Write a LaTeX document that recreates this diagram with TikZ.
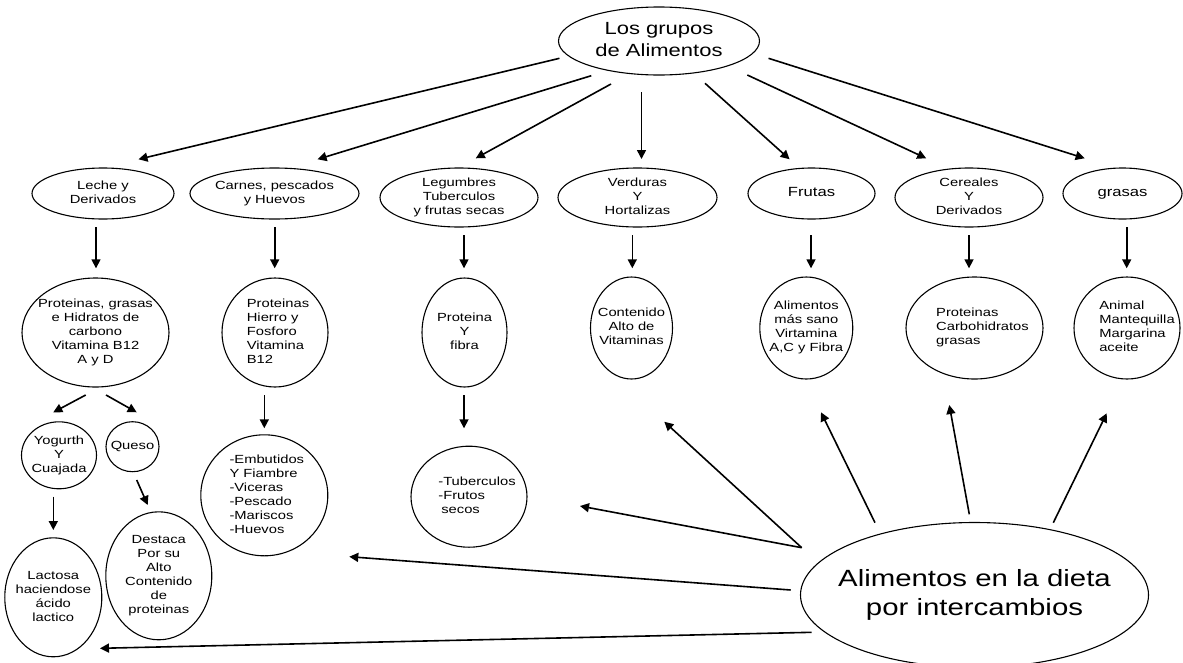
\documentclass[tikz,border=0pt]{standalone}
\usepackage{fontspec}
\setmainfont{Liberation Sans}[FakeStretch=1.25]
\usetikzlibrary{shapes.geometric,arrows.meta,calc}

% Text block centred on the node without enlarging the ellipse:
% #1 column alignment, #2 horizontal kern (twice the shift), #3 lines
\newsavebox\cellbox
\newcommand\inbox[3][c]{%
  \sbox\cellbox{\begin{tabular}{@{}#1@{}}#3\end{tabular}}%
  \makebox[0pt]{\kern#2\relax\raisebox{\dimexpr(\dp\cellbox-\ht\cellbox)/2\relax}[0pt][0pt]{\usebox\cellbox}}}

\begin{document}
\begin{tikzpicture}[x=1pt,y=-1pt,
  bub/.style={ellipse, draw, line width=1.1pt, inner sep=0pt, outer sep=0pt},
  arr/.style={line width=1.6pt, -{Triangle[length=9pt,width=9pt]}},
  txtS/.style={font=\fontsize{11.8}{14}\selectfont},
  txtM/.style={font=\fontsize{13.3}{16}\selectfont},
  txtL/.style={font=\fontsize{17.6}{21.7}\selectfont},
  txtXL/.style={font=\fontsize{23.5}{29}\selectfont}]
\useasboundingbox (0,0) rectangle (1183,662);

% root
\node[bub, txtL, minimum width=201, minimum height=68] (top) at (659,41)
  {\inbox{0pt}{Los grupos\\de Alimentos}};

% food groups
\node[bub, txtS, minimum width=142, minimum height=51] (leche) at (103,193.5)
  {\inbox{0pt}{Leche y\\Derivados}};
\node[bub, txtS, minimum width=169, minimum height=51] (carnes) at (274.5,193.5)
  {\inbox{0pt}{Carnes, pescados\\y Huevos}};
\node[bub, txtS, minimum width=158, minimum height=59] (legum) at (459,197.5)
  {\inbox{0pt}{Legumbres\\Tuberculos\\y frutas secas}};
\node[bub, txtS, minimum width=159, minimum height=59] (verd) at (637.5,197.5)
  {\inbox{0pt}{Verduras\\Y\\Hortalizas}};
\node[bub, txtM, minimum width=127, minimum height=51] (frutas) at (811.5,193.5)
  {\inbox{0pt}{Frutas}};
\node[bub, txtS, minimum width=148, minimum height=59] (cereal) at (969,197.5)
  {\inbox{0pt}{Cereales\\Y\\Derivados}};
\node[bub, txtM, minimum width=119, minimum height=51] (grasas) at (1122.5,193.5)
  {\inbox{0pt}{grasas}};

% nutrients of each group
\node[bub, txtS, minimum width=147, minimum height=109] (lecheC) at (95.5,332.5)
  {\inbox{0pt}{Proteinas, grasas\\e Hidratos de\\carbono\\Vitamina B12\\A y D}};
\node[bub, txtS, minimum width=106, minimum height=109] (carnesC) at (275,332.5)
  {\inbox[l]{6pt}{Proteinas\\Hierro y\\Fosforo\\Vitamina\\B12}};
\node[bub, txtS, minimum width=85, minimum height=109] (legumC) at (464.5,332.5)
  {\inbox{0pt}{Proteina\\Y\\fibra}};
\node[bub, txtS, minimum width=82, minimum height=102] (verdC) at (631.5,328)
  {\inbox{0pt}{Contenido\\Alto de\\Vitaminas}};
\node[bub, txtS, minimum width=93, minimum height=102] (frutasC) at (806.3,328)
  {\inbox{0pt}{Alimentos\\más sano\\Virtamina\\A,C y Fibra}};
\node[bub, txtS, minimum width=137, minimum height=102] (cerealC) at (974.5,328)
  {\inbox[l]{16pt}{Proteinas\\Carbohidratos\\grasas}};
\node[bub, txtS, minimum width=106, minimum height=102] (grasasC) at (1127,328)
  {\inbox[l]{20pt}{Animal\\Mantequilla\\Margarina\\aceite}};

% dairy products
\node[bub, txtS, minimum width=75, minimum height=67] (yog) at (59,455.3)
  {\inbox{0pt}{Yogurth\\Y\\Cuajada}};
\node[bub, txtS, minimum width=53, minimum height=50] (queso) at (132.5,446.7)
  {\inbox{0pt}{Queso}};
\node[bub, txtS, minimum width=97, minimum height=119] (lact) at (53.3,597.3)
  {\inbox{0pt}{Lactosa\\haciendose\\ácido\\lactico}};
\node[bub, txtS, minimum width=106, minimum height=128] (dest) at (158.8,575.8)
  {\inbox{0pt}{Destaca\\Por su\\Alto\\Contenido\\de\\proteinas}};

% examples
\node[bub, txtS, minimum width=127, minimum height=121] (embut) at (264.3,495.3)
  {\inbox[l]{5pt}{-Embutidos\\Y Fiambre\\-Viceras\\-Pescado\\-Mariscos\\-Huevos}};
\node[bub, txtS, minimum width=116, minimum height=101] (tuber) at (469,496.7)
  {\inbox[l]{16pt}{-Tuberculos\\-Frutos\\\hspace{3pt}secos}};

% exchange diet
\node[bub, txtXL, minimum width=348, minimum height=145] (dieta) at (974.5,595)
  {\inbox{0pt}{Alimentos en la dieta\\por intercambios}};

% root -> groups
\draw[arr] ($(top)+(-99.5,17.3)$) -- ($(leche)+(35.5,-34.2)$);
\draw[arr] ($(top)+(-67.7,34.7)$) -- ($(carnes)+(43.1,-34.2)$);
\draw[arr] ($(top)+(-48,43)$) -- ($(legum)+(16.7,-39.2)$);
\draw[arr] ($(top)+(-17.5,51.3)$) -- ($(verd)+(4,-38.5)$);
\draw[arr] ($(top)+(46,42.3)$) -- ($(frutas)+(-21.9,-34.2)$);
\draw[arr] ($(top)+(88.3,34)$) -- ($(cereal)+(-42.8,-39.2)$);
\draw[arr] ($(top)+(109.5,17.3)$) -- ($(grasas)+(-37.9,-35.2)$);

% groups -> nutrients
\draw[arr] ($(leche)+(-7,33.5)$) -- ($(lecheC)+(0.5,-64.2)$);
\draw[arr] ($(carnes)+(0.2,33.5)$) -- ($(carnesC)+(-0.3,-64.2)$);
\draw[arr] ($(legum)+(5,37.5)$) -- ($(legumC)+(-0.5,-64.2)$);
\draw[arr] ($(verd)+(-5.2,37.5)$) -- ($(verdC)+(0.8,-59.7)$);
\draw[arr] ($(frutas)+(-0.5,41.5)$) -- ($(frutasC)+(4.7,-59.7)$);
\draw[arr] ($(cereal)+(0,37.5)$) -- ($(cerealC)+(-5.5,-59.7)$);
\draw[arr] ($(grasas)+(4.2,33.5)$) -- ($(grasasC)+(-0.3,-59.7)$);

% further branches
\draw[arr] ($(lecheC)+(-9.8,62.5)$) -- ($(yog)+(-5.7,-43)$);
\draw[arr] ($(lecheC)+(10.5,62.5)$) -- ($(queso)+(4.2,-34.4)$);
\draw[arr] ($(yog)+(-5.7,41.4)$) -- ($(lact)+(0,-67.3)$);
\draw[arr] ($(queso)+(4.2,33.3)$) -- ($(dest)+(-11.1,-70.8)$);
\draw[arr] ($(carnesC)+(-10.7,62.5)$) -- ($(embut)+(0,-67)$);
\draw[arr] ($(legumC)+(-0.5,62.5)$) -- ($(tuber)+(-5,-68.4)$);

% exchange diet -> boxes
\draw[arr] ($(dieta)+(-99.5,-72.3)$) -- ($(frutasC)+(14.7,84.3)$);
\draw[arr] ($(dieta)+(-5.2,-80.7)$) -- ($(cerealC)+(-25.2,77)$);
\draw[arr] ($(dieta)+(78.8,-72.3)$) -- ($(grasasC)+(-20.3,85.3)$);
\draw[arr] ($(dieta)+(-172.8,-47.3)$) -- ($(verdC)+(32.8,93.7)$);
\draw[arr] ($(dieta)+(-172.8,-47.3)$) -- ($(tuber)+(111,9.3)$);
\draw[arr] ($(dieta)+(-183.8,-5)$) -- ($(embut)+(85,61.4)$);
\draw[arr] ($(dieta)+(-162.8,37.3)$) -- ($(lact)+(46.7,51)$);
\end{tikzpicture}
\end{document}
